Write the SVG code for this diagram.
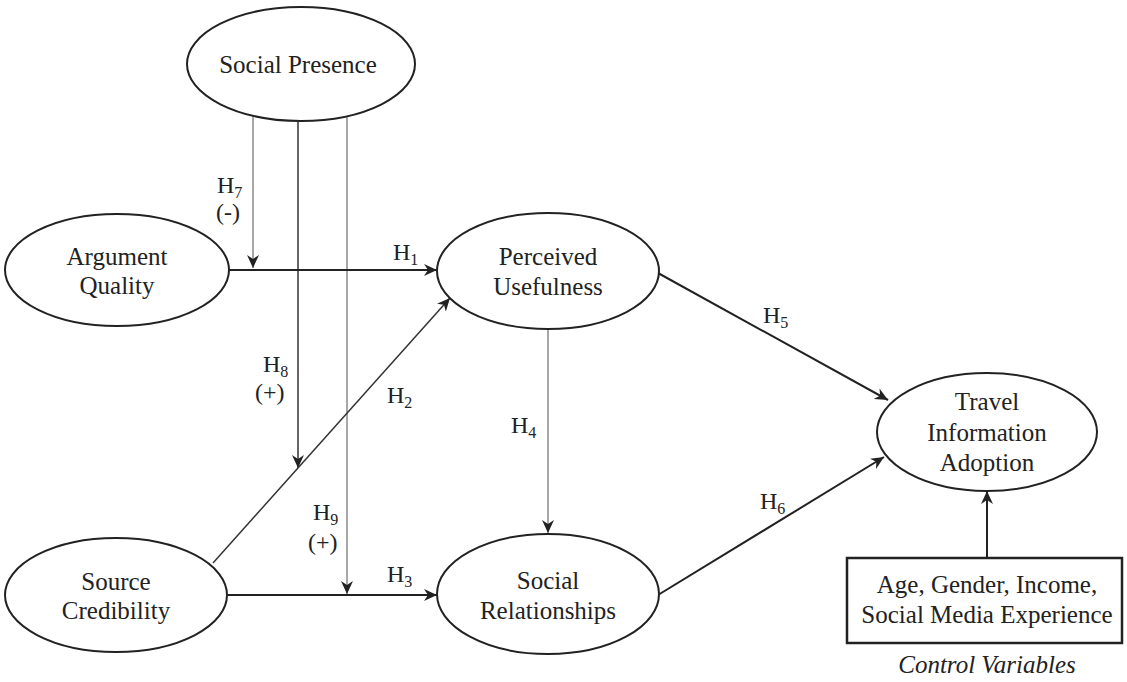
<svg xmlns="http://www.w3.org/2000/svg" width="1127" height="682" viewBox="0 0 1127 682">
  <style>
    .node { fill: #fff; stroke: #222; stroke-width: 2; }
    .lbl { font-family: "Liberation Serif", "Times New Roman", serif; font-size: 25px; fill: #222; text-anchor: middle; }
    .hyp { font-family: "Liberation Serif", "Times New Roman", serif; font-size: 24px; fill: #222; }
    .sub { font-size: 16px; }
    .main { fill: none; stroke: #222; stroke-width: 2; }
    .thin { fill: none; stroke: #777; stroke-width: 1.3; }
    .mid { fill: none; stroke: #333; stroke-width: 1.5; }
  </style>
  <defs>
    <marker id="arrow" markerUnits="userSpaceOnUse" markerWidth="14" markerHeight="12" refX="13" refY="6" orient="auto">
      <path d="M0,0 L13,6 L0,12 L4,6 z" fill="#222"/>
    </marker>
  </defs>

  <rect width="1127" height="682" fill="#fff"/>

  <!-- connectors -->
  <g id="connectors">
    <path class="thin" d="M253,116 V268" marker-end="url(#arrow)"/>
    <path class="mid" d="M298,121 V468" marker-end="url(#arrow)"/>
    <path class="thin" d="M347,116 V594" marker-end="url(#arrow)"/>
    <path class="main" d="M229,270 H437" marker-end="url(#arrow)"/>
    <path class="main" d="M227,595 H437" marker-end="url(#arrow)"/>
    <path class="mid" d="M213,563 L450,298" marker-end="url(#arrow)"/>
    <path class="thin" d="M548,329 V533" marker-end="url(#arrow)"/>
    <path class="main" d="M658,273 L888,400" marker-end="url(#arrow)"/>
    <path class="main" d="M658,595 L884,457" marker-end="url(#arrow)"/>
    <path class="main" d="M987,557 V491" marker-end="url(#arrow)"/>

    <text class="hyp" x="217" y="193">H<tspan class="sub" dy="5">7</tspan></text>
    <text class="hyp" x="216" y="220">(-)</text>
    <text class="hyp" x="393" y="260">H<tspan class="sub" dy="5">1</tspan></text>
    <text class="hyp" x="263" y="372">H<tspan class="sub" dy="5">8</tspan></text>
    <text class="hyp" x="255" y="400">(+)</text>
    <text class="hyp" x="387" y="403">H<tspan class="sub" dy="5">2</tspan></text>
    <text class="hyp" x="511" y="433">H<tspan class="sub" dy="5">4</tspan></text>
    <text class="hyp" x="313" y="520">H<tspan class="sub" dy="5">9</tspan></text>
    <text class="hyp" x="308" y="550">(+)</text>
    <text class="hyp" x="387" y="582">H<tspan class="sub" dy="5">3</tspan></text>
    <text class="hyp" x="763" y="323">H<tspan class="sub" dy="5">5</tspan></text>
    <text class="hyp" x="760" y="509">H<tspan class="sub" dy="5">6</tspan></text>
  </g>

  <g id="social-presence">
    <ellipse class="node" cx="301" cy="64" rx="114" ry="57"/>
    <text class="lbl" x="298" y="73">Social Presence</text>
  </g>

  <g id="argument-quality">
    <ellipse class="node" cx="117" cy="270" rx="112" ry="56"/>
    <text class="lbl" x="117" y="265">Argument</text>
    <text class="lbl" x="117" y="294">Quality</text>
  </g>

  <g id="perceived-usefulness">
    <ellipse class="node" cx="548" cy="271" rx="111" ry="58"/>
    <text class="lbl" x="548" y="265">Perceived</text>
    <text class="lbl" x="548" y="295">Usefulness</text>
  </g>

  <g id="source-credibility">
    <ellipse class="node" cx="116" cy="595" rx="111" ry="57"/>
    <text class="lbl" x="116" y="590">Source</text>
    <text class="lbl" x="116" y="619">Credibility</text>
  </g>

  <g id="social-relationships">
    <ellipse class="node" cx="548" cy="594" rx="111" ry="60"/>
    <text class="lbl" x="548" y="589">Social</text>
    <text class="lbl" x="548" y="619">Relationships</text>
  </g>

  <g id="travel-information-adoption">
    <ellipse class="node" cx="987" cy="432" rx="110" ry="59"/>
    <text class="lbl" x="987" y="410">Travel</text>
    <text class="lbl" x="987" y="441">Information</text>
    <text class="lbl" x="987" y="471">Adoption</text>
  </g>

  <g id="control-variables">
    <rect x="847" y="558" width="275" height="85" fill="#fff" stroke="#222" stroke-width="2.5"/>
    <text class="lbl" x="987" y="593">Age, Gender, Income,</text>
    <text class="lbl" x="987" y="623">Social Media Experience</text>
    <text class="lbl" x="987" y="673" font-style="italic">Control Variables</text>
  </g>
</svg>
